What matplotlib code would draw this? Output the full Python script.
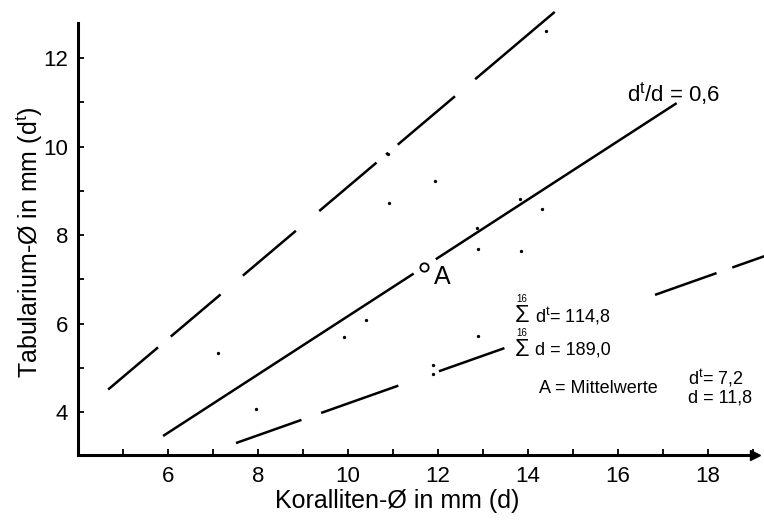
import matplotlib
matplotlib.use("Agg")
import matplotlib.pyplot as plt

plt.rcParams['font.family'] = ['Liberation Sans', 'DejaVu Sans']
plt.rcParams['mathtext.fontset'] = 'custom'
plt.rcParams['mathtext.rm'] = 'Liberation Sans'
plt.rcParams['mathtext.it'] = 'Liberation Sans'
plt.rcParams['lines.scale_dashes'] = False

# measured corallites: diameter d and tabularium diameter d^t (mm)
d_vals = [7.1, 7.96, 9.9, 10.4, 10.9, 11.92, 11.89, 11.89,
          12.87, 12.89, 12.89, 13.83, 13.84, 14.31, 14.4, 10.88]
dt_vals = [5.33, 4.07, 5.69, 6.08, 8.73, 9.22, 5.06, 4.87,
           8.17, 7.68, 5.72, 8.81, 7.64, 8.58, 12.6, 9.83]

# mean point A
mean_d = 11.68
mean_dt = 7.27

# fitted line d^t/d = 0,6 and the two envelope lines
fit_x = [5.89, 17.30]
fit_y = [3.46, 10.98]
upper_x = [4.67, 14.59]
upper_y = [4.51, 13.04]
lower_x = [7.51, 19.27]
lower_y = [3.30, 7.53]

x_ticks = [6, 8, 10, 12, 14, 16, 18]
y_ticks = [4, 6, 8, 10, 12]

fig = plt.figure(figsize=(7.64, 5.23), dpi=100)
ax = fig.add_axes([0.1021, 0.130, 0.8979, 0.870])
ax.set_xlim(4.0, 19.24)
ax.set_ylim(3.03, 13.31)

lw = 1.8
ax.plot(fit_x, fit_y, color='black', lw=lw, dashes=(215, 19, 500, 10))
ax.plot(upper_x, upper_y, color='black', lw=lw,
        dashes=(47, 12, 47, 21, 50, 22, 54, 9, 2, 9, 54, 19, 200, 10))
ax.plot(lower_x, lower_y, color='black', lw=lw,
        dashes=(50, 15, 59, 31, 50, 115, 47, 12, 100, 10))

ax.plot(d_vals, dt_vals, 'o', color='black', ms=2.4, mew=0)
ax.plot([mean_d], [mean_dt], 'o', ms=6, mfc='white', mec='black', mew=1.3, zorder=5)

# annotations
ax.text(12.1, 7.06, 'A', fontsize=18, ha='center', va='center')
ax.text(16.2, 11.2, r'd$^{\rm t}$/d = 0,6', fontsize=16, ha='left', va='center')

ax.text(13.69, 6.17, r'$\Sigma$', fontsize=17, ha='left', va='center')
ax.text(13.73, 6.55, '16', fontsize=7, ha='left', va='center')
ax.text(14.16, 6.17, r'd$^{\rm t}$= 114,8', fontsize=13, ha='left', va='center')
ax.text(13.69, 5.40, r'$\Sigma$', fontsize=17, ha='left', va='center')
ax.text(13.73, 5.78, '16', fontsize=7, ha='left', va='center')
ax.text(14.16, 5.40, 'd = 189,0', fontsize=13, ha='left', va='center')

ax.text(14.24, 4.54, 'A = Mittelwerte', fontsize=13, ha='left', va='center')
ax.text(17.56, 4.77, r'd$^{\rm t}$= 7,2', fontsize=13, ha='left', va='center')
ax.text(17.56, 4.32, 'd = 11,8', fontsize=13, ha='left', va='center')

# axes styling: only left and bottom, x axis with arrow
for side in ['top', 'right']:
    ax.spines[side].set_visible(False)
ax.spines['left'].set_linewidth(2.2)
ax.spines['bottom'].set_linewidth(2.2)
ax.spines['left'].set_bounds(3.03, 12.8)
ax.spines['bottom'].set_bounds(4.0, 19.0)
ax.plot([19.05], [3.03], marker='>', color='black', ms=7, clip_on=False)

ax.set_xticks(x_ticks)
ax.set_yticks(y_ticks)
ax.set_xticks(range(5, 20), minor=True)
ax.set_yticks(range(4, 13), minor=True)
ax.tick_params(which='both', direction='in', width=1.3, length=4)
ax.tick_params(axis='x', labelsize=16, pad=8)
ax.tick_params(axis='y', labelsize=16, pad=7)

ax.set_xlabel('Koralliten-Ø in mm (d)', fontsize=18)
ax.set_ylabel(r'Tabularium-Ø in mm (d$^{\rm t}$)', fontsize=18)
ax.xaxis.set_label_coords(0.465, -0.075)
ax.yaxis.set_label_coords(-0.048, 0.468)

fig.savefig('out.png', dpi=100)
